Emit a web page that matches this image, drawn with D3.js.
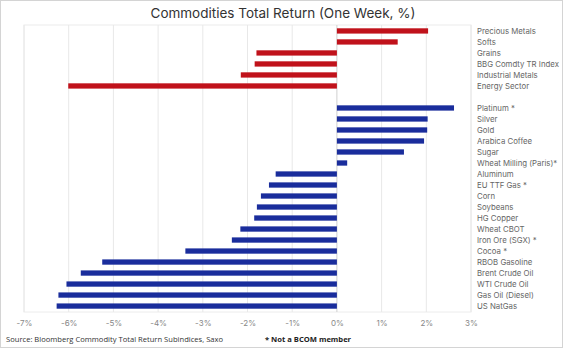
<!DOCTYPE html>
<html>
<head>
<meta charset="utf-8">
<script src="https://cdn.jsdelivr.net/npm/d3@7.9.0/dist/d3.min.js"></script>
<style>
  body { margin: 0; background: #fff; }
  svg { display: block; font-family: Inter, "Open Sans", sans-serif; }
</style>
</head>
<body>
<div id="chart"></div>
<script>
// Sector group (red) and single commodities (blue), one-week total return in %
const sectorNames = ['Precious Metals', 'Softs', 'Grains', 'BBG Comdty TR Index', 'Industrial Metals', 'Energy Sector'];
const sectorValues = [2.04, 1.36, -1.80, -1.84, -2.15, -6.01];

const commodityNames = ['Platinum *', 'Silver', 'Gold', 'Arabica Coffee', 'Sugar', 'Wheat Milling (Paris)*',
  'Aluminum', 'EU TTF Gas *', 'Corn', 'Soybeans', 'HG Copper', 'Wheat CBOT', 'Iron Ore (SGX) *', 'Cocoa *',
  'RBOB Gasoline', 'Brent Crude Oil', 'WTI Crude Oil', 'Gas Oil (Diesel)', 'US NatGas'];
const commodityValues = [2.62, 2.03, 2.02, 1.95, 1.50, 0.23,
  -1.37, -1.52, -1.70, -1.79, -1.85, -2.16, -2.35, -3.39,
  -5.25, -5.73, -6.05, -6.23, -6.27];

const xTicks = [-7, -6, -5, -4, -3, -2, -1, 0, 1, 2, 3];

const width = 563, height = 348;
const margin = { top: 25, right: 92, bottom: 36, left: 24 };
const innerW = width - margin.left - margin.right;
const innerH = height - margin.top - margin.bottom;

const rows = [
  ...sectorNames.map((n, i) => ({ key: 's' + i, name: n, value: sectorValues[i], color: '#c0121b' })),
  { key: 'gap', name: '', value: null },
  ...commodityNames.map((n, i) => ({ key: 'c' + i, name: n, value: commodityValues[i], color: '#1a2d9c' }))
];

const svg = d3.select('#chart').append('svg')
  .attr('width', width)
  .attr('height', height);

// outer frame
svg.append('rect')
  .attr('x', 0.5).attr('y', 0.5)
  .attr('width', width - 1).attr('height', height - 1)
  .attr('fill', 'none')
  .attr('stroke', '#d4d4d4');

const x = d3.scaleLinear().domain([-7, 3]).range([0, innerW]);
const y = d3.scaleBand()
  .domain(rows.map(d => d.key))
  .range([0, innerH])
  .paddingInner(0.52)
  .paddingOuter(0.3);

const g = svg.append('g').attr('transform', `translate(${margin.left},${margin.top})`);

// plot border
g.append('rect')
  .attr('width', innerW).attr('height', innerH)
  .attr('fill', 'none')
  .attr('stroke', '#ececec');

// gridlines
g.append('g')
  .selectAll('line')
  .data(xTicks)
  .join('line')
  .attr('x1', d => x(d)).attr('x2', d => x(d))
  .attr('y1', 0).attr('y2', innerH)
  .attr('stroke', d => d === 0 ? '#d0d0d0' : '#e8e8e8')
  .attr('stroke-width', 1);

// bars
g.append('g')
  .selectAll('rect')
  .data(rows.filter(d => d.value !== null))
  .join('rect')
  .attr('x', d => x(Math.min(0, d.value)))
  .attr('y', d => y(d.key))
  .attr('width', d => Math.abs(x(d.value) - x(0)))
  .attr('height', y.bandwidth())
  .attr('fill', d => d.color);

// category labels on the right
g.append('g')
  .selectAll('text')
  .data(rows)
  .join('text')
  .attr('x', innerW + 6)
  .attr('y', d => y(d.key) + y.bandwidth() / 2)
  .attr('dy', '0.35em')
  .style('font-size', '7.8px')
  .style('fill', '#666')
  .text(d => d.name);

// x axis
const xAxis = d3.axisBottom(x)
  .tickValues(xTicks)
  .tickSize(0)
  .tickPadding(8)
  .tickFormat(d => d + '%');

g.append('g')
  .attr('transform', `translate(0,${innerH})`)
  .call(xAxis)
  .call(a => a.select('.domain').remove())
  .selectAll('text')
  .style('font-size', '8px')
  .style('font-family', 'Inter, "Open Sans", sans-serif')
  .style('fill', '#888');

// title
svg.append('text')
  .attr('x', 283)
  .attr('y', 18)
  .attr('text-anchor', 'middle')
  .style('font-size', '13.5px')
  .style('fill', '#333')
  .text('Commodities Total Return (One Week, %)');

// footer
svg.append('text')
  .attr('x', 6)
  .attr('y', 342)
  .style('font-size', '7.6px')
  .style('font-family', '"Open Sans", sans-serif')
  .style('fill', '#333')
  .text('Source: Bloomberg Commodity Total Return Subindices, Saxo');

svg.append('text')
  .attr('x', 265)
  .attr('y', 342)
  .style('font-size', '7.6px')
  .style('font-weight', 'bold')
  .style('font-family', '"Open Sans", sans-serif')
  .style('fill', '#222')
  .text('* Not a BCOM member');
</script>
</body>
</html>
